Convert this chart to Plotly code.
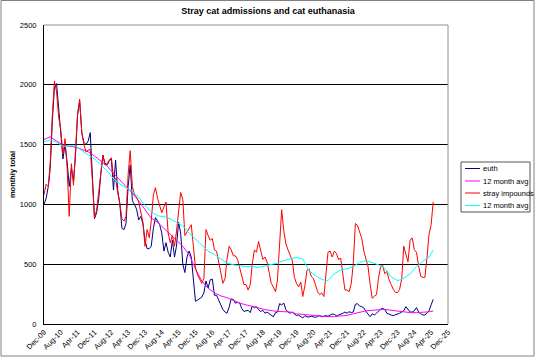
import plotly.graph_objects as go
import pandas as pd

# ---------------- data ----------------
title_text = "Stray cat admissions and cat euthanasia"
y_title = "monthly total"

# monthly values, Dec-09 onwards
euth = [
    1000, 1050, 1150, 1300, 1700, 1980, 2010, 1800, 1650, 1380,
    1500, 1350, 1150, 1300, 1200, 1400, 1750, 1860, 1600, 1520,
    1500, 1530, 1600, 1250, 880, 930, 1050, 1250, 1412, 1343,
    1330, 1360, 1384, 1120, 1370, 1120, 1008, 800, 790, 840,
    1150, 1330, 1030, 1000, 960, 870, 900, 840, 700, 630,
    630, 650, 800, 890, 860, 830, 760, 610, 680, 600,
    560, 700, 560, 650, 850, 760, 500, 430, 560, 610,
    560, 400, 190, 200, 215, 225, 260, 360, 300, 370,
    375, 240, 240, 200, 150, 120, 100, 90, 140, 210,
    205, 175, 180, 175, 130, 105, 110, 115, 95, 150,
    135, 145, 120, 105, 115, 90, 100, 85, 70, 60,
    95, 100, 170, 160, 175, 120, 100, 90, 100, 80,
    70, 75, 60, 50, 70, 60, 58, 65, 60, 55,
    62, 70, 60, 62, 70, 65, 75, 84, 80, 70,
    75, 80, 89, 100, 90, 103, 95, 100, 165, 170,
    150, 145, 135, 105, 80, 61, 85, 75, 90, 110,
    125, 131, 120, 90, 80, 75, 70, 75, 80, 90,
    100, 110, 145, 120, 100, 100, 110, 137, 100, 85,
    75, 75, 90, 110, 160, 206,
]

impounds = [
    1080, 1170, 1150, 1350, 1750, 2030, 1940, 1730, 1620, 1420,
    1550, 1300, 900, 1340, 1160, 1430, 1760, 1880, 1600, 1500,
    1440, 1454, 1460, 1200, 890, 950, 1100, 1290, 1410, 1330,
    1340, 1370, 1390, 1230, 1215, 1100, 1010, 880, 860, 900,
    1250, 1450, 1150, 1080, 1060, 1020, 940, 850, 650, 790,
    720, 860, 1080, 1140, 1050, 990, 930, 980, 1020, 760,
    680, 740, 650, 770, 940, 1100, 1040, 740, 770, 800,
    830, 650, 470, 410, 370, 340, 380, 790, 740, 700,
    715, 620, 610, 510, 440, 340, 380, 540, 650, 620,
    570, 570, 540, 470, 380, 330, 330, 284, 330, 500,
    620, 600, 690, 620, 540, 560, 520, 430, 340, 310,
    270, 368, 680, 955, 780, 670, 620, 570, 530, 390,
    340, 310, 350, 230, 320, 450, 460, 400, 380, 330,
    270, 245, 260, 230, 420, 600, 610, 560, 610, 590,
    540, 550, 420, 285, 284, 270, 340, 500, 840, 825,
    770, 720, 610, 540, 480, 330, 215, 232, 245, 380,
    480, 490, 420, 440, 370, 330, 290, 265, 262, 290,
    380, 650, 580, 520, 700, 720, 620, 600, 490, 400,
    390, 390, 560, 750, 830, 1022,
]

# 12-month averages, read every third month (month index list below)
avg_index = list(range(0, 184, 3)) + [185]

euth_avg = [
    1543, 1565, 1530, 1496, 1485, 1480, 1460, 1440, 1405, 1365,
    1320, 1260, 1205, 1155, 1095, 1030, 960, 885, 850, 800,
    750, 700, 650, 580, 460, 360, 300, 260, 235, 220,
    195, 175, 160, 150, 135, 120, 112, 105, 103, 100,
    85, 80, 70, 65, 62, 61, 62, 65, 72, 85,
    100, 110, 115, 120, 122, 115, 108, 98, 95, 95,
    97, 102, 109,
]

impounds_avg = [
    1524, 1540, 1520, 1485, 1490, 1490, 1450, 1412, 1380, 1330,
    1280, 1215, 1170, 1140, 1110, 1060, 990, 940, 905, 897,
    880, 850, 820, 760, 710, 660, 610, 580, 545, 510,
    495, 485, 480, 480, 474, 485, 495, 510, 530, 545,
    557, 545, 445, 405, 372, 362, 420, 452, 462, 480,
    515, 530, 512, 495, 465, 395, 362, 380, 420, 480,
    525, 560, 618,
]

tick_labels = [
    "Dec-09", "Aug-10", "Apr-11", "Dec-11", "Aug-12", "Apr-13", "Dec-13",
    "Aug-14", "Apr-15", "Dec-15", "Aug-16", "Apr-17", "Dec-17", "Aug-18",
    "Apr-19", "Dec-19", "Aug-20", "Apr-21", "Dec-21", "Aug-22", "Apr-23",
    "Dec-23", "Aug-24", "Apr-25", "Dec-25",
]

series_names = ["euth", "12 month avg", "stray impounds", "12 month avg"]
series_colors = ["#000080", "#FF00FF", "#FF0000", "#00FFFF"]

# ---------------- figure ----------------
months = pd.date_range("2009-12-01", periods=len(euth), freq="MS")
avg_months = months[avg_index]
tick_dates = pd.date_range("2009-12-01", periods=len(tick_labels), freq="8MS")

FONT = "Arial, 'Liberation Sans', sans-serif"

fig = go.Figure()
xs = [months, avg_months, months, avg_months]
ys = [euth, euth_avg, impounds, impounds_avg]
for x, y, n, c in zip(xs, ys, series_names, series_colors):
    fig.add_trace(go.Scatter(x=x, y=y, mode="lines", name=n,
                             line=dict(color=c, width=1), showlegend=False))

W, H = 536, 357
ML, MR, MT, MB = 44, 88, 25, 33
PW, PH = W - ML - MR, H - MT - MB


def px_x(p):
    return (p - ML) / PW


def px_y(p):
    return (H - MB - p) / PH


shapes = []
annotations = []
# plot-area frame: grey top and right edges
shapes.append(dict(type="line", xref="paper", yref="paper", x0=0, x1=1, y0=1, y1=1,
                   line=dict(color="#909090", width=1), layer="above"))
shapes.append(dict(type="line", xref="paper", yref="paper", x0=1, x1=1, y0=0, y1=1,
                   line=dict(color="#909090", width=1), layer="above"))
# outer chart border
shapes.append(dict(type="rect", xref="paper", yref="paper",
                   x0=px_x(1), x1=px_x(534), y0=px_y(356), y1=px_y(0.5),
                   line=dict(color="#808080", width=1)))
# legend box
shapes.append(dict(type="rect", xref="paper", yref="paper",
                   x0=px_x(461), x1=px_x(530), y0=px_y(212), y1=px_y(162),
                   line=dict(color="#555555", width=1), fillcolor="white"))
row_y = [168.5, 181, 193, 205.5]
for name, color, ry in zip(series_names, series_colors, row_y):
    shapes.append(dict(type="line", xref="paper", yref="paper",
                       x0=px_x(465), x1=px_x(480), y0=px_y(ry), y1=px_y(ry),
                       line=dict(color=color, width=1)))
    annotations.append(dict(text=name, xref="paper", yref="paper",
                            x=px_x(481), y=px_y(ry), xanchor="left", yanchor="middle",
                            showarrow=False, font=dict(family=FONT, size=7.5, color="black")))

fig.update_layout(
    width=W, height=H,
    margin=dict(l=ML, r=MR, t=MT, b=MB),
    paper_bgcolor="white", plot_bgcolor="white",
    font=dict(family=FONT, size=7.5, color="black"),
    title=dict(text="<b>" + title_text + "</b>", x=0.5, xref="container",
               y=1 - 11 / H, yref="container", yanchor="middle", xanchor="center",
               font=dict(family=FONT, size=9, color="black")),
    shapes=shapes,
    annotations=annotations,
    showlegend=False,
)

fig.update_xaxes(
    type="date", automargin=False,
    range=[months[0], tick_dates[-1]],
    tickvals=tick_dates, ticktext=tick_labels, tickangle=-45,
    showgrid=False, showline=True, linecolor="black", linewidth=1,
    ticks="", tickfont=dict(family=FONT, size=7.5, color="black"),
    zeroline=False,
)
fig.update_yaxes(
    automargin=False,
    range=[0, 2500], dtick=500, tick0=0,
    showgrid=True, gridcolor="black", gridwidth=1,
    showline=True, linecolor="black", linewidth=1,
    ticks="", ticklabelstandoff=5, zeroline=False,
    tickfont=dict(family=FONT, size=7.5, color="black"),
    title=dict(text="<b>" + y_title + "</b>", standoff=3,
               font=dict(family=FONT, size=7.5, color="black")),
)

fig.write_html(
    "out.html",
    config={"displayModeBar": False},
    post_script="document.body.style.margin='0';document.body.style.padding='0';",
)
